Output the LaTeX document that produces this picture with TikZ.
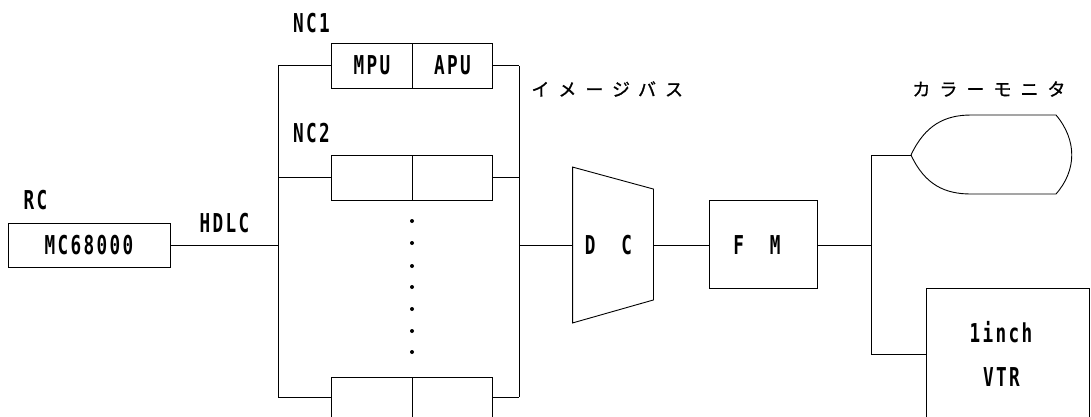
\documentclass[tikz,border=0pt]{standalone}
\usepackage{fontspec}
\setmainfont{DejaVu Sans Mono}[FakeStretch=0.68,LetterSpace=9]
\newfontfamily\jpfont{Noto Sans CJK JP}[LetterSpace=50,FakeBold=1]

\begin{document}
\begin{tikzpicture}[x=1pt, y=-1pt, line width=0.9pt,
  box/.style={draw, rectangle, inner sep=0pt},
  half/.style={box, minimum width=80.5pt, minimum height=45pt},
  lbl/.style={inner sep=0pt, font=\fontsize{26}{28}\selectfont\bfseries},
  jp/.style={inner sep=0pt, anchor=west, font=\jpfont\fontsize{18}{20}\selectfont}]
\clip (0,0) rectangle (1091,416);

% RC
\node[lbl] (rc) at (35.5,200) {RC};
\node[box, lbl, minimum width=162pt, minimum height=44pt] (mc) at (89,245) {MC68000};
\node[lbl] (hdlc) at (224.5,223) {HDLC};

% NC boards
\node[lbl] (nc1) at (311.5,23) {NC1};
\node[half, lbl] (mpu) at (372,65.5) {MPU};
\node[half, lbl] (apu) at (452.5,65.5) {APU};
\node[lbl] (nc2) at (311.5,133) {NC2};
\node[half] (nc2a) at (372,177.5) {};
\node[half] (nc2b) at (452.5,177.5) {};
\node[half] (ncna) at (372,399.5) {};
\node[half] (ncnb) at (452.5,399.5) {};
\foreach \y in {221,243,266,287,309,331,352}
  \fill (412,\y) circle (2pt);

\coordinate (lt) at (278,66);
\coordinate (lb) at (278,397);
\coordinate (rt) at (519,66);
\coordinate (rb) at (519,397);
\draw (lt) -- (lb);
\draw (rt) -- (rb);
\draw (mc.east) -- (mc.east -| lt);
\draw (mpu.west) -- (mpu.west -| lt);
\draw (apu.east) -- (apu.east -| rt);
\draw (nc2a.west) -- (nc2a.west -| lt);
\draw (nc2b.east) -- (nc2b.east -| rt);
\draw (ncna.west |- lb) -- (lb);
\draw (ncnb.east |- rb) -- (rb);

\node[jp] (bus) at (531,89) {イメージバス};

% DC
\node[minimum width=80pt, minimum height=155pt, inner sep=0pt] (dc) at (613,245) {};
\draw (dc.north west) -- ([yshift=-22pt]dc.north east) -- ([yshift=23pt]dc.south east) -- (dc.south west) -- cycle;
\node[lbl] (dctext) at (608.5,245) {D\ \ C};
\draw (dc.west) -- (dc.west -| rt);

% FM
\node[box, minimum width=108pt, minimum height=88pt] (fm) at (763,244) {};
\node[lbl] (fmtext) at (757,245) {F\ \ M};
\draw (dc.east) -- (dc.east -| fm.west);

\coordinate (vt) at (871,155);
\coordinate (vb) at (871,354);
\draw (fm.east |- dc.east) -- (dc.east -| vt);
\draw (vt) -- (vb);

% monitor
\node[jp] (monlbl) at (912,89) {カラーモニタ};
\coordinate (tip) at (911,155);
\draw (vt) -- (tip);
\draw (tip) .. controls (925,125) and (945,115) .. (971,115) -- (1056,115)
  .. controls (1077,140) and (1077,170) .. (1056,194) -- (971,194)
  .. controls (945,194) and (925,185) .. (tip);

% VTR
\node[box, minimum width=163pt, minimum height=180pt] (vtr) at (1007.5,378) {};
\node[lbl] (inch) at (1001,332) {1inch};
\node[lbl] (vtrtext) at (1001.5,377) {VTR};
\draw (vb) -- (vb -| vtr.west);
\end{tikzpicture}
\end{document}
